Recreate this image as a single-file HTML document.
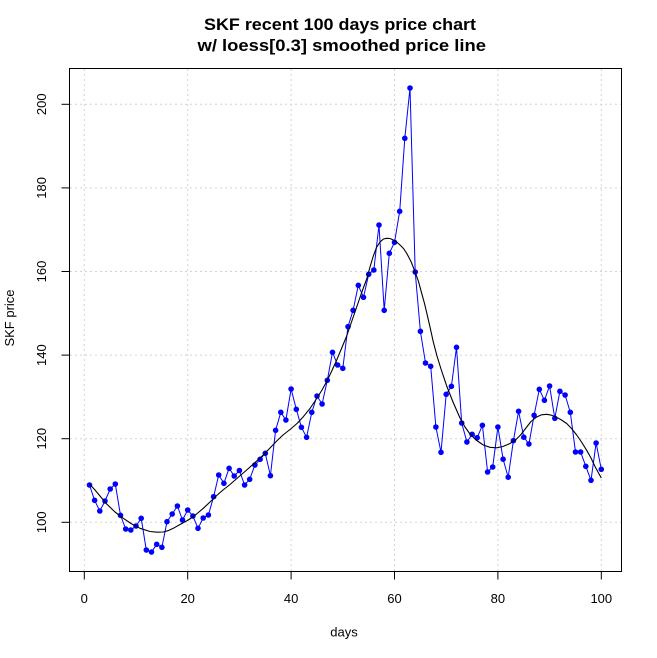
<!DOCTYPE html>
<html><head><meta charset="utf-8"><style>
html,body{margin:0;padding:0;background:#fff;}
svg{display:block;}
text{font-family:"Liberation Sans",Arial,sans-serif;fill:#000;}
</style></head><body>
<svg width="657" height="658" viewBox="0 0 657 658" xmlns="http://www.w3.org/2000/svg">
<rect x="0" y="0" width="657" height="658" fill="#fff"/>
<!-- grid -->
<g stroke="#d3d3d3" stroke-width="1" stroke-dasharray="2,3" fill="none">
<line x1="84.3" y1="69" x2="84.3" y2="571"/>
<line x1="187.7" y1="69" x2="187.7" y2="571"/>
<line x1="291.1" y1="69" x2="291.1" y2="571"/>
<line x1="394.5" y1="69" x2="394.5" y2="571"/>
<line x1="497.9" y1="69" x2="497.9" y2="571"/>
<line x1="601.3" y1="69" x2="601.3" y2="571"/>
<line x1="70" y1="522.3" x2="621" y2="522.3"/>
<line x1="70" y1="438.7" x2="621" y2="438.7"/>
<line x1="70" y1="355.1" x2="621" y2="355.1"/>
<line x1="70" y1="271.5" x2="621" y2="271.5"/>
<line x1="70" y1="187.9" x2="621" y2="187.9"/>
<line x1="70" y1="104.3" x2="621" y2="104.3"/>
</g>
<!-- price line -->
<polyline fill="none" stroke="#0000ff" stroke-width="1" points="
89.5,485 94.6,500.3 99.8,511 105,501 110.2,489 115.3,484 120.5,515.3 125.7,529 130.8,530 136,526
141.2,518.3 146.3,550 151.5,552 156.7,544.3 161.9,547.3 167,521.7 172.2,514 177.4,506 182.5,520 187.7,510
192.9,516 198,528.3 203.2,518 208.4,515 213.6,496.7 218.7,475 223.9,483.3 229.1,468.3 234.2,476 239.4,470.5
244.6,485 249.7,479.3 254.9,465 260.1,459.3 265.3,453.3 270.4,475.7 275.6,430.3 280.8,412.3 285.9,420 291.1,389
296.3,409.3 301.4,427.3 306.6,437.3 311.8,412.3 317,396 322.1,404 327.3,380.3 332.5,352.3 337.6,365 342.8,368.3
348,326.7 353.1,310.3 358.3,285.3 363.5,297.3 368.7,274.3 373.8,270 379,225 384.2,310.3 389.3,253.3 394.5,242.3
399.7,211.3 404.8,138.3 410,88 415.2,272 420.4,331.3 425.5,363 430.7,366.3 435.9,427 441,452.3 446.2,394.3
451.4,386.3 456.5,347.3 461.7,423 466.9,442 472.1,434.3 477.2,437.7 482.4,425.3 487.6,472 492.7,467 497.9,427
503.1,459.2 508.2,477.2 513.4,440.7 518.6,411.3 523.8,437.2 528.9,444 534.1,415.3 539.3,389.3 544.4,400.3 549.6,386
554.8,418.3 559.9,391.3 565.1,395 570.3,412.3 575.5,452 580.6,452 585.8,466.3 591,480.3 596.1,443 601.3,469.3"/>
<!-- points -->
<g fill="#0000ff">
<circle cx="89.5" cy="485" r="2.8"/><circle cx="94.6" cy="500.3" r="2.8"/><circle cx="99.8" cy="511" r="2.8"/><circle cx="105" cy="501" r="2.8"/><circle cx="110.2" cy="489" r="2.8"/>
<circle cx="115.3" cy="484" r="2.8"/><circle cx="120.5" cy="515.3" r="2.8"/><circle cx="125.7" cy="529" r="2.8"/><circle cx="130.8" cy="530" r="2.8"/><circle cx="136" cy="526" r="2.8"/>
<circle cx="141.2" cy="518.3" r="2.8"/><circle cx="146.3" cy="550" r="2.8"/><circle cx="151.5" cy="552" r="2.8"/><circle cx="156.7" cy="544.3" r="2.8"/><circle cx="161.9" cy="547.3" r="2.8"/>
<circle cx="167" cy="521.7" r="2.8"/><circle cx="172.2" cy="514" r="2.8"/><circle cx="177.4" cy="506" r="2.8"/><circle cx="182.5" cy="520" r="2.8"/><circle cx="187.7" cy="510" r="2.8"/>
<circle cx="192.9" cy="516" r="2.8"/><circle cx="198" cy="528.3" r="2.8"/><circle cx="203.2" cy="518" r="2.8"/><circle cx="208.4" cy="515" r="2.8"/><circle cx="213.6" cy="496.7" r="2.8"/>
<circle cx="218.7" cy="475" r="2.8"/><circle cx="223.9" cy="483.3" r="2.8"/><circle cx="229.1" cy="468.3" r="2.8"/><circle cx="234.2" cy="476" r="2.8"/><circle cx="239.4" cy="470.5" r="2.8"/>
<circle cx="244.6" cy="485" r="2.8"/><circle cx="249.7" cy="479.3" r="2.8"/><circle cx="254.9" cy="465" r="2.8"/><circle cx="260.1" cy="459.3" r="2.8"/><circle cx="265.3" cy="453.3" r="2.8"/>
<circle cx="270.4" cy="475.7" r="2.8"/><circle cx="275.6" cy="430.3" r="2.8"/><circle cx="280.8" cy="412.3" r="2.8"/><circle cx="285.9" cy="420" r="2.8"/><circle cx="291.1" cy="389" r="2.8"/>
<circle cx="296.3" cy="409.3" r="2.8"/><circle cx="301.4" cy="427.3" r="2.8"/><circle cx="306.6" cy="437.3" r="2.8"/><circle cx="311.8" cy="412.3" r="2.8"/><circle cx="317" cy="396" r="2.8"/>
<circle cx="322.1" cy="404" r="2.8"/><circle cx="327.3" cy="380.3" r="2.8"/><circle cx="332.5" cy="352.3" r="2.8"/><circle cx="337.6" cy="365" r="2.8"/><circle cx="342.8" cy="368.3" r="2.8"/>
<circle cx="348" cy="326.7" r="2.8"/><circle cx="353.1" cy="310.3" r="2.8"/><circle cx="358.3" cy="285.3" r="2.8"/><circle cx="363.5" cy="297.3" r="2.8"/><circle cx="368.7" cy="274.3" r="2.8"/>
<circle cx="373.8" cy="270" r="2.8"/><circle cx="379" cy="225" r="2.8"/><circle cx="384.2" cy="310.3" r="2.8"/><circle cx="389.3" cy="253.3" r="2.8"/><circle cx="394.5" cy="242.3" r="2.8"/>
<circle cx="399.7" cy="211.3" r="2.8"/><circle cx="404.8" cy="138.3" r="2.8"/><circle cx="410" cy="88" r="2.8"/><circle cx="415.2" cy="272" r="2.8"/><circle cx="420.4" cy="331.3" r="2.8"/>
<circle cx="425.5" cy="363" r="2.8"/><circle cx="430.7" cy="366.3" r="2.8"/><circle cx="435.9" cy="427" r="2.8"/><circle cx="441" cy="452.3" r="2.8"/><circle cx="446.2" cy="394.3" r="2.8"/>
<circle cx="451.4" cy="386.3" r="2.8"/><circle cx="456.5" cy="347.3" r="2.8"/><circle cx="461.7" cy="423" r="2.8"/><circle cx="466.9" cy="442" r="2.8"/><circle cx="472.1" cy="434.3" r="2.8"/>
<circle cx="477.2" cy="437.7" r="2.8"/><circle cx="482.4" cy="425.3" r="2.8"/><circle cx="487.6" cy="472" r="2.8"/><circle cx="492.7" cy="467" r="2.8"/><circle cx="497.9" cy="427" r="2.8"/>
<circle cx="503.1" cy="459.2" r="2.8"/><circle cx="508.2" cy="477.2" r="2.8"/><circle cx="513.4" cy="440.7" r="2.8"/><circle cx="518.6" cy="411.3" r="2.8"/><circle cx="523.8" cy="437.2" r="2.8"/>
<circle cx="528.9" cy="444" r="2.8"/><circle cx="534.1" cy="415.3" r="2.8"/><circle cx="539.3" cy="389.3" r="2.8"/><circle cx="544.4" cy="400.3" r="2.8"/><circle cx="549.6" cy="386" r="2.8"/>
<circle cx="554.8" cy="418.3" r="2.8"/><circle cx="559.9" cy="391.3" r="2.8"/><circle cx="565.1" cy="395" r="2.8"/><circle cx="570.3" cy="412.3" r="2.8"/><circle cx="575.5" cy="452" r="2.8"/>
<circle cx="580.6" cy="452" r="2.8"/><circle cx="585.8" cy="466.3" r="2.8"/><circle cx="591" cy="480.3" r="2.8"/><circle cx="596.1" cy="443" r="2.8"/><circle cx="601.3" cy="469.3" r="2.8"/>
</g>
<!-- loess curve -->
<polyline fill="none" stroke="#000" stroke-width="1.1" stroke-linejoin="round" points="
89.5,484 95,490 100,496 106.7,504 115,512 123.3,518.3 131,523.5 140,528.3 150,531.5 157,532.2 163.3,532 168,530.7 173.3,528.3
180,524.5 188.3,520 196,514.5 203.3,508.3 210,502 216.7,495.5 223,490 230,484.5 238,477.5 246.7,470 255,462.5 263.3,455
270,448 276.7,441 283,435 290,429.5 297,423.5 303.3,416.7 310,408.5 316.7,398.5 322,390 326.7,381.5 331.5,371.5 336.7,360
341.5,348.5 346.7,336 351.5,322 356.7,307 361.5,293 366.7,279 370,267 373.3,256 376.5,247.5 380,242 383.5,239 386.7,238.3
390,238.5 393.3,240 396.7,242 400,245 403.5,248.5 406.7,253.3 411,261.5 415,271.7 418.5,281.5 421.7,293.3 424.5,303.5
427,314 430,327 433.3,342 437,356 441,369 446.7,386 453,402 460,418 465,427 470,434 476,440 483.3,445 490,447.3 496.7,447.8
503,446.5 510,443.5 516,439.5 521,434.5 526.7,427 531,421.5 536.7,417 541.5,414.8 546.7,414.3 551.5,415.2 556.7,417.3
561.5,420 566.7,423.5 571.5,428.5 576.7,435 581.5,442 586.7,450.3 591,458 595,466.5 598.5,473 601.3,478"/>
<!-- box -->
<rect x="69.5" y="68.5" width="552" height="503" fill="none" stroke="#000" stroke-width="1"/>
<!-- ticks -->
<g stroke="#000" stroke-width="1">
<line x1="84.3" y1="571.5" x2="84.3" y2="579.5"/>
<line x1="187.7" y1="571.5" x2="187.7" y2="579.5"/>
<line x1="291.1" y1="571.5" x2="291.1" y2="579.5"/>
<line x1="394.5" y1="571.5" x2="394.5" y2="579.5"/>
<line x1="497.9" y1="571.5" x2="497.9" y2="579.5"/>
<line x1="601.3" y1="571.5" x2="601.3" y2="579.5"/>
<line x1="69.5" y1="522.3" x2="61.5" y2="522.3"/>
<line x1="69.5" y1="438.7" x2="61.5" y2="438.7"/>
<line x1="69.5" y1="355.1" x2="61.5" y2="355.1"/>
<line x1="69.5" y1="271.5" x2="61.5" y2="271.5"/>
<line x1="69.5" y1="187.9" x2="61.5" y2="187.9"/>
<line x1="69.5" y1="104.3" x2="61.5" y2="104.3"/>
</g>
<g font-size="13" text-anchor="middle">
<text x="84.3" y="603">0</text>
<text x="187.7" y="603">20</text>
<text x="291.1" y="603">40</text>
<text x="394.5" y="603">60</text>
<text x="497.9" y="603">80</text>
<text x="601.3" y="603">100</text>
<text transform="translate(46,522.3) rotate(-90)">100</text>
<text transform="translate(46,438.7) rotate(-90)">120</text>
<text transform="translate(46,355.1) rotate(-90)">140</text>
<text transform="translate(46,271.5) rotate(-90)">160</text>
<text transform="translate(46,187.9) rotate(-90)">180</text>
<text transform="translate(46,104.3) rotate(-90)">200</text>
<text x="344" y="636.5">days</text>
<text transform="translate(14,318) rotate(-90)">SKF price</text>
</g>
<g font-size="17" font-weight="bold">
<text x="204" y="30" textLength="272" lengthAdjust="spacingAndGlyphs">SKF recent 100 days price chart</text>
<text x="197.5" y="51" textLength="288.5" lengthAdjust="spacingAndGlyphs">w/ loess[0.3] smoothed price line</text>
</g>
</svg>
</body></html>
